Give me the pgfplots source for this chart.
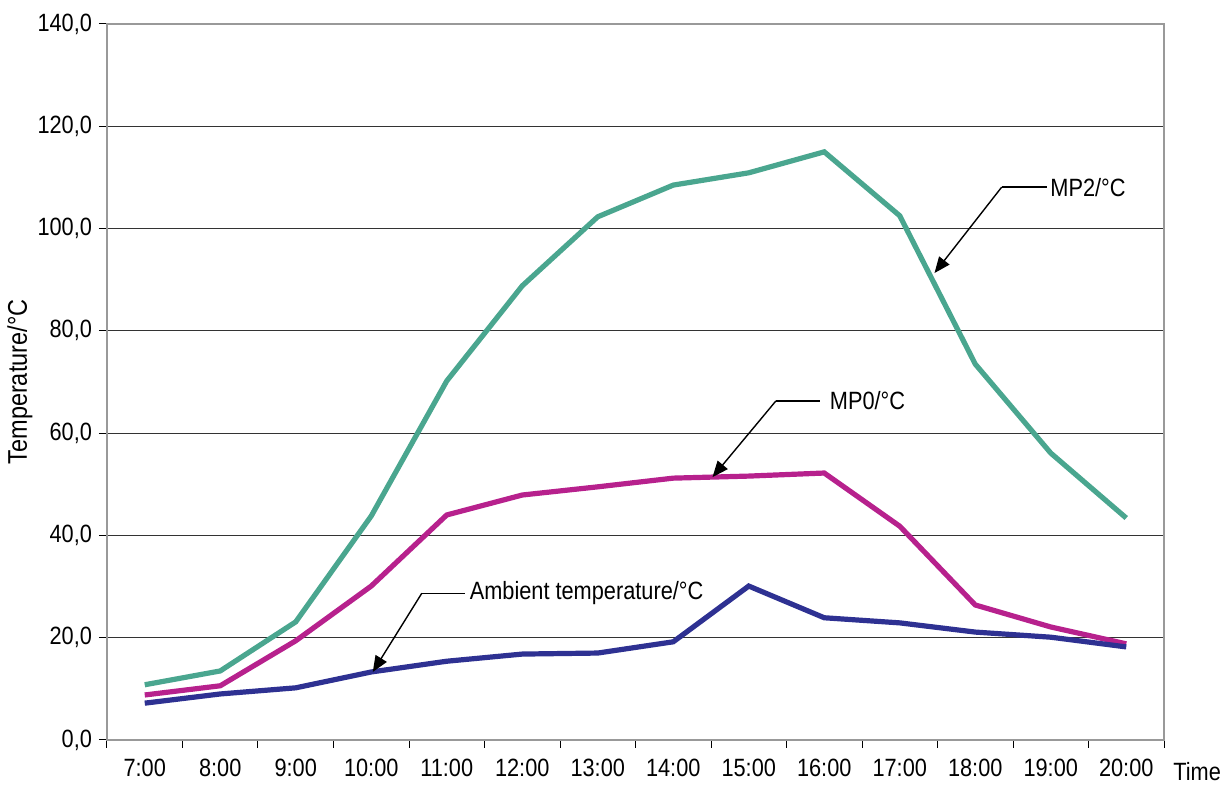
\documentclass[border=0pt]{standalone}
\usepackage{fontspec}
\setmainfont{Liberation Sans}[FakeStretch=0.87]
\usepackage{pgfplots}
\pgfplotsset{compat=1.18}
\usetikzlibrary{arrows.meta}
\definecolor{mptwo}{HTML}{4AA68F}
\definecolor{mpzero}{HTML}{B7218D}
\definecolor{amb}{HTML}{2E3192}
\begin{document}
\begin{tikzpicture}
\useasboundingbox (-53.5pt,-22.5pt) rectangle (556.5pt,370pt);
\begin{axis}[
  scale only axis, width=528.5pt, height=358pt,
  font=\fontsize{12.5}{15}\selectfont,
  /pgf/number format/assume math mode=true,
  xmin=-0.5, xmax=13.5, ymin=0, ymax=140,
  xtick={-0.5,0.5,...,13.5}, x tick label as interval,
  xticklabels={7:00,8:00,9:00,10:00,11:00,12:00,13:00,14:00,15:00,16:00,17:00,18:00,19:00,20:00},
  xticklabel style={yshift=-2pt},
  ytick={0,20,...,140},
  yticklabel style={/pgf/number format/.cd, fixed, fixed zerofill, precision=1, use comma},
  ymajorgrids, grid style={black!80, line width=0.5pt},
  axis line style={black!40, line width=0.9pt},
  tick style={black, line width=0.5pt},
  tick align=outside, major tick length=4pt, tick pos=left,
  clip=false,
]
\addplot[mptwo, line width=2.6pt] coordinates {(0,10.8)(1,13.5)(2,23.1)(3,43.8)(4,70.2)(5,88.8)(6,102.3)(7,108.5)(8,110.9)(9,115.0)(10,102.5)(11,73.5)(12,56.1)(13,43.4)};
\addplot[mpzero, line width=2.6pt] coordinates {(0,8.8)(1,10.6)(2,19.4)(3,30.1)(4,44.0)(5,47.9)(6,49.5)(7,51.2)(8,51.6)(9,52.2)(10,41.8)(11,26.4)(12,22.1)(13,18.8)};
\addplot[amb, line width=2.6pt] coordinates {(0,7.2)(1,9.0)(2,10.2)(3,13.3)(4,15.4)(5,16.8)(6,17.0)(7,19.2)(8,30.1)(9,23.9)(10,22.9)(11,21.1)(12,20.1)(13,18.2)};
% annotations
\draw[line width=0.7pt] (axis cs:11.95,108.1) -- (axis cs:11.35,108.1);
\draw[line width=0.7pt, -{Triangle[length=8pt,width=6.5pt]}] (axis cs:11.35,108.1) -- (axis cs:10.46,91.3);
\node[anchor=west, inner sep=0pt] at (axis cs:11.99,108.1) {MP2/°C};
\draw[line width=0.7pt] (axis cs:8.94,66.3) -- (axis cs:8.36,66.3);
\draw[line width=0.7pt, -{Triangle[length=8pt,width=6.5pt]}] (axis cs:8.36,66.3) -- (axis cs:7.52,51.4);
\node[anchor=west, inner sep=0pt] at (axis cs:9.07,66.3) {MP0/°C};
\draw[line width=0.7pt] (axis cs:4.24,28.7) -- (axis cs:3.67,28.7);
\draw[line width=0.7pt, -{Triangle[length=8pt,width=6.5pt]}] (axis cs:3.67,28.7) -- (axis cs:3.02,13.3);
\node[anchor=west, inner sep=0pt] at (axis cs:4.30,28.7) {Ambient temperature/°C};
\node[rotate=90, font=\fontsize{13.5}{16}\selectfont] at ([xshift=-43.5pt]rel axis cs:0,0.5) {Temperature/°C};
\node[anchor=west, inner sep=0pt] at ([xshift=4.5pt,yshift=-16pt]rel axis cs:1,0) {Time};
\end{axis}
\end{tikzpicture}
\end{document}
